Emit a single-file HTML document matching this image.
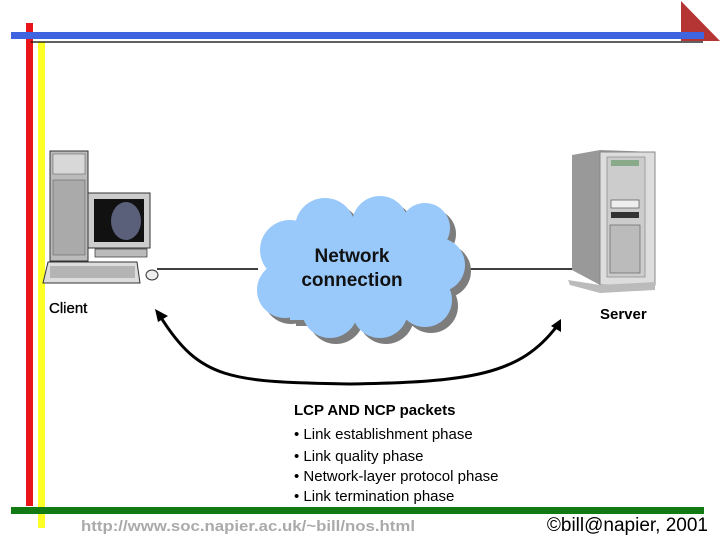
<!DOCTYPE html>
<html><head><meta charset="utf-8"><style>
body{margin:0;width:720px;height:540px;overflow:hidden;background:#fff;font-family:"Liberation Sans",sans-serif}
</style></head><body>
<svg width="720" height="540" viewBox="0 0 720 540" xmlns="http://www.w3.org/2000/svg" style="position:absolute;left:0;top:0">
<rect x="26" y="23" width="7" height="483" fill="#e8141a"/>
<rect x="38" y="42" width="7" height="486" fill="#ffff28"/>
<polygon points="681,1 720,41 681,41" fill="#b53535"/>
<rect x="11" y="32" width="693" height="7" fill="#3e64e0"/>
<line x1="31" y1="42" x2="703" y2="42" stroke="#000" stroke-width="1.2"/>
<rect x="11" y="507" width="693" height="7" fill="#127a12"/>

<rect x="50" y="151" width="38" height="110" fill="#bbb" stroke="#333" stroke-width="1"/>
<rect x="53" y="154" width="32" height="20" fill="#d8d8d8" stroke="#555" stroke-width=".5"/>
<rect x="53" y="180" width="32" height="75" fill="#aaa" stroke="#555" stroke-width=".5"/>
<rect x="88" y="193" width="62" height="55" fill="#ccc" stroke="#333"/>
<rect x="94" y="199" width="50" height="43" fill="#111"/>
<ellipse cx="126" cy="221" rx="15" ry="19" fill="#5a5f7a"/>
<rect x="95" y="249" width="52" height="8" fill="#bbb" stroke="#333" stroke-width=".7"/>
<polygon points="48,262 137,262 140,283 43,283" fill="#ddd" stroke="#333"/>
<rect x="50" y="266" width="85" height="12" fill="#999" opacity=".6"/>
<ellipse cx="152" cy="275" rx="6" ry="5" fill="#eee" stroke="#333"/>
<text x="49" y="313" font-size="15" fill="#000" stroke="#000" stroke-width=".3">Client</text>

<polygon points="572,155 600,150 655,152 655,282 600,285 572,270" fill="#999"/>
<rect x="600" y="152" width="55" height="133" fill="#ddd" stroke="#888"/>
<rect x="607" y="157" width="38" height="120" fill="#ccc" stroke="#888" stroke-width=".7"/>
<rect x="611" y="160" width="28" height="6" fill="#8a8"/>
<rect x="611" y="200" width="28" height="8" fill="#eee" stroke="#555" stroke-width=".7"/>
<rect x="611" y="212" width="28" height="6" fill="#333"/>
<rect x="610" y="225" width="30" height="48" fill="#bbb" stroke="#666" stroke-width=".7"/>
<polygon points="568,280 600,285 655,282 655,290 600,293 570,285" fill="#bbb"/>
<text x="600" y="319" font-size="15" font-weight="bold" fill="#000">Server</text>

<line x1="157" y1="269" x2="258" y2="269" stroke="#000" stroke-width="1.5"/>
<line x1="463" y1="269" x2="572" y2="269" stroke="#000" stroke-width="1.5"/>

<g fill="#7d7d7d" transform="translate(6,6)">
<circle cx="290" cy="250" r="30"/><circle cx="325" cy="228" r="30"/><circle cx="380" cy="224" r="28"/><circle cx="425" cy="228" r="25"/><circle cx="438" cy="265" r="27"/><circle cx="425" cy="300" r="27"/><circle cx="380" cy="310" r="28"/><circle cx="330" cy="310" r="28"/><circle cx="285" cy="290" r="28"/><rect x="290" y="230" width="140" height="90"/>
</g>
<g fill="#99c9fb">
<circle cx="290" cy="250" r="30"/><circle cx="325" cy="228" r="30"/><circle cx="380" cy="224" r="28"/><circle cx="425" cy="228" r="25"/><circle cx="438" cy="265" r="27"/><circle cx="425" cy="300" r="27"/><circle cx="380" cy="310" r="28"/><circle cx="330" cy="310" r="28"/><circle cx="285" cy="290" r="28"/><rect x="290" y="230" width="140" height="90"/>
</g>
<text x="352" y="262" font-size="19" font-weight="bold" text-anchor="middle" fill="#111">Network</text>
<text x="352" y="286" font-size="19" font-weight="bold" text-anchor="middle" fill="#111">connection</text>

<path d="M160,316 C200,380 230,382 350,384 C470,382 520,375 557,326" fill="none" stroke="#000" stroke-width="3"/>
<polygon points="155,309 168,316 158,322" fill="#000"/>
<polygon points="561,319 561,332 551,326" fill="#000"/>

<text x="294" y="415" font-size="15" font-weight="bold" fill="#000">LCP AND NCP packets</text>
<g font-size="15" fill="#000">
<text x="294" y="439">• Link establishment phase</text>
<text x="294" y="461">• Link quality phase</text>
<text x="294" y="481">• Network-layer protocol phase</text>
<text x="294" y="501">• Link termination phase</text>
</g>
<text x="81" y="531" font-size="15" font-weight="bold" fill="#aaa" textLength="334" lengthAdjust="spacingAndGlyphs">http://www.soc.napier.ac.uk/~bill/nos.html</text>
<text x="708" y="531" font-size="19" text-anchor="end" fill="#000">©bill@napier, 2001</text>
</svg>
</body></html>
